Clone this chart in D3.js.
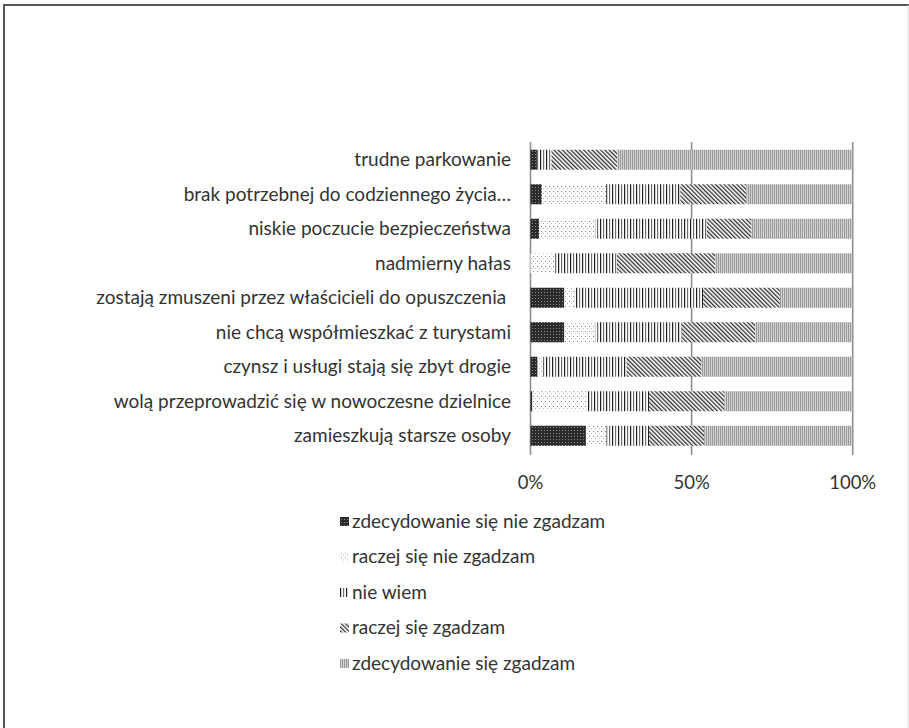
<!DOCTYPE html>
<html>
<head>
<meta charset="utf-8">
<script src="https://cdn.jsdelivr.net/npm/d3@7"></script>
<style>
  body { margin: 0; background: #fff; }
  svg { display: block; }
  text { font-family: Lato, "Open Sans", sans-serif; fill: #333; white-space: pre; }
</style>
</head>
<body>
<svg id="chart" width="909" height="728"></svg>
<script>
// Reasons residents leave the district, top row first
const categories = [
  "trudne parkowanie",
  "brak potrzebnej do codziennego życia…",
  "niskie poczucie bezpieczeństwa",
  "nadmierny hałas",
  "zostają zmuszeni przez właścicieli do opuszczenia ",
  "nie chcą współmieszkać z turystami",
  "czynsz i usługi stają się zbyt drogie",
  "wolą przeprowadzić się w nowoczesne dzielnice",
  "zamieszkują starsze osoby"
];

const seriesNames = [
  "zdecydowanie się nie zgadzam",
  "raczej się nie zgadzam",
  "nie wiem",
  "raczej się zgadzam",
  "zdecydowanie się zgadzam"
];

// Share of answers (%) per category, same order as categories
const stronglyDisagree = [2.0, 3.5, 2.7, 0.0, 10.5, 10.5, 2.2, 0.6, 17.2];
const ratherDisagree   = [0.0, 20.0, 17.3, 7.5, 3.1, 9.5, 1.3, 16.8, 6.4];
const dontKnow         = [4.5, 23.0, 34.7, 19.3, 40.0, 26.9, 26.3, 19.4, 13.2];
const ratherAgree      = [20.5, 20.5, 13.9, 30.5, 23.8, 22.8, 23.3, 23.4, 17.1];
const stronglyAgree    = [73.0, 33.0, 31.4, 42.7, 22.6, 30.3, 46.9, 39.8, 46.1];

const tickValues = [0, 0.5, 1];
const tickLabels = ["0%", "50%", "100%"];

const seriesValues = [stronglyDisagree, ratherDisagree, dontKnow, ratherAgree, stronglyAgree];
const rows = categories.map((c, i) => {
  const r = { category: c };
  seriesNames.forEach((s, k) => { r[s] = seriesValues[k][i]; });
  return r;
});

const svg = d3.select("#chart");
const defs = svg.append("defs");

// Monochrome fill patterns, one per answer
function pattern(id, w, h, build, transform) {
  const p = defs.append("pattern")
    .attr("id", id).attr("patternUnits", "userSpaceOnUse")
    .attr("width", w).attr("height", h);
  if (transform) p.attr("patternTransform", transform);
  build(p);
}
pattern("p0", 3, 3, p => {
  p.append("rect").attr("width", 3).attr("height", 3).attr("fill", "#2b2b2b");
  p.append("rect").attr("x", 1).attr("y", 1).attr("width", 1).attr("height", 1).attr("fill", "#8a8a8a");
});
pattern("p1", 4, 5, p => {
  p.append("rect").attr("width", 4).attr("height", 5).attr("fill", "#fff");
  p.append("rect").attr("x", 1).attr("y", 1).attr("width", 1).attr("height", 1).attr("fill", "#8c8c8c");
  p.append("rect").attr("x", 3).attr("y", 3).attr("width", 1).attr("height", 1).attr("fill", "#b5b5b5");
});
pattern("p2", 6, 6, p => {
  p.append("rect").attr("width", 6).attr("height", 6).attr("fill", "#fff");
  p.append("rect").attr("x", 0).attr("width", 1.2).attr("height", 6).attr("fill", "#1e1e1e");
  p.append("rect").attr("x", 3).attr("width", 1.2).attr("height", 6).attr("fill", "#6e6e6e");
});
pattern("p3", 3, 3, p => {
  p.append("rect").attr("width", 3).attr("height", 3).attr("fill", "#fff");
  p.append("rect").attr("width", 1.3).attr("height", 3).attr("fill", "#2e2e2e");
}, "rotate(-45)");
pattern("p4", 2, 2, p => {
  p.append("rect").attr("width", 2).attr("height", 2).attr("fill", "#d2d2d2");
  p.append("rect").attr("width", 1).attr("height", 2).attr("fill", "#9a9a9a");
});
const fills = ["url(#p0)", "url(#p1)", "url(#p2)", "url(#p3)", "url(#p4)"];

// Frame
svg.append("line").attr("x1", 4).attr("x2", 4).attr("y1", 4).attr("y2", 728)
  .attr("stroke", "#555").attr("stroke-width", 2);
svg.append("line").attr("x1", 3).attr("x2", 909).attr("y1", 5).attr("y2", 5)
  .attr("stroke", "#555").attr("stroke-width", 2);
svg.append("line").attr("x1", 908).attr("x2", 908).attr("y1", 5).attr("y2", 728)
  .attr("stroke", "#d8d8d8").attr("stroke-width", 1);

const x = d3.scaleLinear().domain([0, 1]).range([530.5, 852.7]);
const y = d3.scaleBand().domain(categories).range([142.5, 453]).paddingInner(0.42).paddingOuter(0.21);

// Vertical gridlines with small ticks below the last bar
svg.append("g").selectAll("line").data(tickValues).join("line")
  .attr("x1", d => x(d)).attr("x2", d => x(d))
  .attr("y1", 142).attr("y2", 455)
  .attr("stroke", "#8f8f8f").attr("stroke-width", 1.6);

const stack = d3.stack().keys(seriesNames).offset(d3.stackOffsetExpand);
const layers = stack(rows);

svg.append("g").selectAll("g").data(layers).join("g")
  .attr("fill", (d, i) => fills[i])
  .selectAll("rect").data(d => d).join("rect")
  .attr("x", d => x(d[0]))
  .attr("width", d => Math.max(0, x(d[1]) - x(d[0])))
  .attr("y", d => y(d.data.category))
  .attr("height", y.bandwidth());

// Category labels
svg.append("g").selectAll("text").data(categories).join("text")
  .attr("x", 511)
  .attr("y", d => y(d) + y.bandwidth() / 2)
  .attr("dy", "0.35em")
  .attr("text-anchor", "end")
  .attr("font-size", 19)
  .text(d => d);

// Percentage ticks
svg.append("g").selectAll("text").data(tickValues).join("text")
  .attr("x", d => x(d))
  .attr("y", 489)
  .attr("text-anchor", "middle")
  .attr("font-size", 18.5)
  .text((d, i) => tickLabels[i]);

// Legend
const legend = svg.append("g").selectAll("g").data(seriesNames).join("g")
  .attr("transform", (d, i) => `translate(340, ${521 + i * 35.5})`);
legend.append("rect")
  .attr("x", 0).attr("y", -4).attr("width", 9).attr("height", 9)
  .attr("fill", (d, i) => fills[i]);
legend.append("text")
  .attr("x", 12).attr("dy", "0.35em")
  .attr("font-size", 19)
  .text(d => d);
</script>
</body>
</html>
